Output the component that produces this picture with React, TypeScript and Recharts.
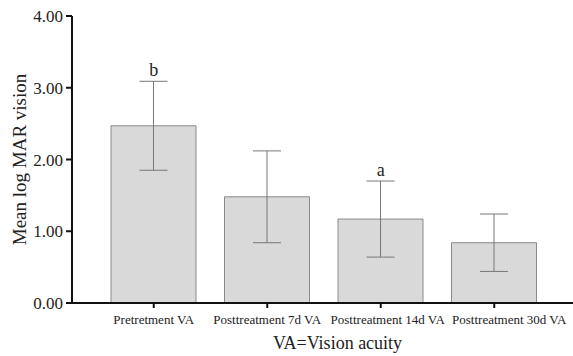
import React from 'react';
import {
  ComposedChart,
  Bar,
  Line,
  XAxis,
  YAxis,
  ErrorBar,
  LabelList,
  Label,
} from 'recharts';

const categories = [
  'Pretretment VA',
  'Posttreatment 7d VA',
  'Posttreatment 14d VA',
  'Posttreatment 30d VA',
];
const means = [2.47, 1.48, 1.17, 0.84];
const sds = [0.62, 0.64, 0.53, 0.4];
const letters = ['b', '', 'a', ''];
const yTicks = [0, 1, 2, 3, 4];

const font = '"Liberation Serif", "Times New Roman", serif';

// the last two category labels sit a little right of their ticks in the original
const tickShift = [0, 0, 7, 15];

const chartData = categories.map((name, i) => ({
  name,
  mean: means[i],
  sd: sds[i],
  upper: means[i] + sds[i],
  letter: letters[i],
}));

const CategoryTick = (props: any) => {
  const { x, y, payload, index } = props;
  return (
    <text
      x={x + (tickShift[index] || 0)}
      y={y}
      dy="0.71em"
      textAnchor="middle"
      fontSize={13}
      fill="#222"
      fontFamily={font}
    >
      {payload.value}
    </text>
  );
};

export default function App() {
  return (
    <div
      style={{
        position: 'absolute',
        left: 0,
        top: 0,
        width: 573,
        height: 356,
        background: '#ffffff',
        fontFamily: font,
      }}
    >
      <ComposedChart
        width={573}
        height={356}
        data={chartData}
        margin={{ top: 16, right: 0, left: 0, bottom: 0 }}
      >
        <XAxis
          dataKey="name"
          height={53}
          padding={{ left: 25, right: 22 }}
          axisLine={{ stroke: '#111', strokeWidth: 2 }}
          tickLine={{ stroke: '#111', strokeWidth: 2 }}
          tickSize={5}
          tickMargin={7}
          interval={0}
          tick={<CategoryTick />}
        >
          <Label
            value="VA=Vision acuity"
            position="insideBottom"
            offset={7}
            dx={15}
            style={{ fontSize: 18, fill: '#222', fontFamily: font }}
          />
        </XAxis>
        <YAxis
          width={72}
          domain={[0, 4]}
          ticks={yTicks}
          tickFormatter={(v: number) => v.toFixed(2)}
          axisLine={{ stroke: '#111', strokeWidth: 2 }}
          tickLine={{ stroke: '#111', strokeWidth: 2 }}
          tickSize={6}
          tickMargin={3}
          tick={{ fontSize: 17, fill: '#222', fontFamily: font }}
        >
          <Label
            value="Mean log MAR vision"
            angle={-90}
            position="center"
            dx={-17}
            style={{ fontSize: 19, fill: '#222', fontFamily: font, textAnchor: 'middle' }}
          />
        </YAxis>
        <Bar
          dataKey="mean"
          barSize={85}
          fill="#d9d9d9"
          stroke="#8a8a8a"
          strokeWidth={1}
          isAnimationActive={false}
        >
          <ErrorBar dataKey="sd" width={14} stroke="#777" strokeWidth={1} direction="y" />
        </Bar>
        <Line
          dataKey="upper"
          stroke="none"
          dot={false}
          activeDot={false}
          isAnimationActive={false}
        >
          <LabelList
            dataKey="letter"
            position="top"
            offset={5}
            style={{ fontSize: 18, fill: '#222', fontFamily: font }}
          />
        </Line>
      </ComposedChart>
    </div>
  );
}
